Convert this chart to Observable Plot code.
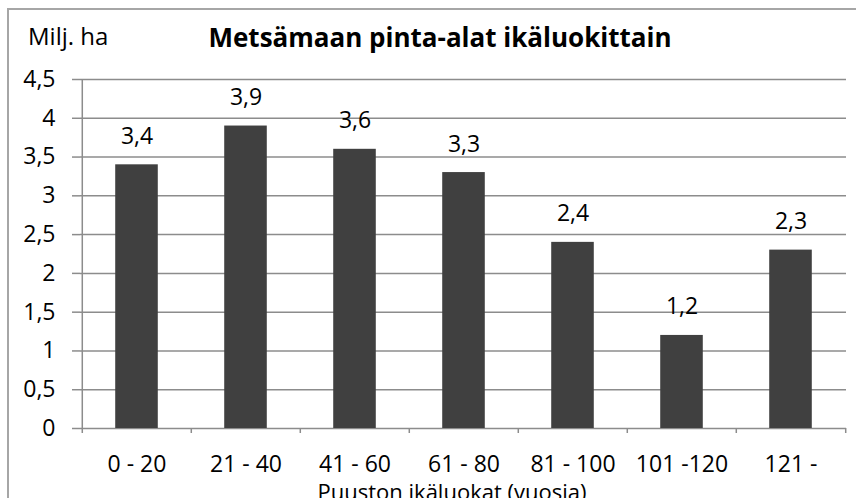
<!DOCTYPE html>
<html><head><meta charset="utf-8">
<script src="https://cdn.jsdelivr.net/npm/d3@7"></script>
<script src="https://cdn.jsdelivr.net/npm/@observablehq/plot@0.6"></script>
<style>
html,body{margin:0;padding:0;background:#fff;overflow:hidden}
#chart{position:relative;width:856px;height:498px;overflow:hidden}
#border{position:absolute;left:7px;top:8px;width:900px;height:600px;border-style:solid;border-color:#a6a6a6;border-width:2px 0 0 2px;box-sizing:border-box;pointer-events:none}
</style></head><body>
<div id="chart"></div>
<script>
const categories = ["0 - 20","21 - 40","41 - 60","61 - 80","81 - 100","101 -120","121 -"];
const values = [3.4, 3.9, 3.6, 3.3, 2.4, 1.2, 2.3];
const valueLabels = ["3,4","3,9","3,6","3,3","2,4","1,2","2,3"];
const yTicks = [0, 0.5, 1, 1.5, 2, 2.5, 3, 3.5, 4, 4.5];
const yTickLabels = ["0","0,5","1","1,5","2","2,5","3","3,5","4","4,5"];
const titleText = "Metsämaan pinta-alat ikäluokittain";
const yUnitText = "Milj. ha";
const xTitleText = "Puuston ikäluokat (vuosia)";

const data = categories.map((c, i) => ({category: c, value: values[i], label: valueLabels[i]}));
const W = 856, H = 498, mL = 80, mR = 10, mT = 79, mB = 70;
const step = (W - mL - mR) / categories.length;
const barW = 43;
const inset = (step - barW) / 2;
const pxPerUnit = (H - mT - mB) / 4.5;
const tickLen = 5 / pxPerUnit;
const gridColor = "#8c8c8c";
const font = "'Open Sans', 'Noto Sans', sans-serif";
const fs = 23;

const plot = Plot.plot({
  width: W, height: H,
  marginLeft: mL, marginRight: mR, marginTop: mT, marginBottom: mB,
  style: {fontFamily: font, fontSize: fs + "px", color: "#000", background: "#fff"},
  x: {type: "band", domain: categories, padding: 0, label: null},
  y: {domain: [0, 4.5], label: null},
  marks: [
    Plot.ruleY(yTicks, {y: d => d, stroke: gridColor, strokeWidth: 1.5}),
    Plot.axisY({ticks: yTicks, tickSize: 8, tickPadding: 17, stroke: gridColor, strokeWidth: 1.5,
      tickFormat: d => yTickLabels[yTicks.indexOf(d)], label: null, fontSize: fs}),
    Plot.axisX({tickSize: 0, tickPadding: 27, label: null, fontSize: fs}),
    Plot.ruleX([categories[0]], {x: d => d, dx: -step / 2, y1: -tickLen, y2: 4.5, stroke: gridColor, strokeWidth: 1.5}),
    Plot.ruleX(categories.slice(1), {x: d => d, dx: -step / 2, y1: -tickLen, y2: 0, stroke: gridColor, strokeWidth: 1.5}),
    Plot.ruleX([categories[categories.length - 1]], {x: d => d, dx: step / 2, y1: -tickLen, y2: 0, stroke: gridColor, strokeWidth: 1.5}),
    Plot.barY(data, {x: "category", y: "value", fill: "#404040", insetLeft: inset, insetRight: inset}),
    Plot.text(data, {x: "category", y: "value", text: "label", dy: -21, lineAnchor: "bottom", fontSize: fs, fill: "#000"})
  ]
});

const svg = d3.select(plot);
svg.append("text").attr("x", 440).attr("y", 47).attr("text-anchor", "middle")
  .attr("font-family", font).attr("font-size", 26).attr("font-weight", "bold").attr("fill", "#000").text(titleText);
svg.append("text").attr("x", 28).attr("y", 45).attr("text-anchor", "start")
  .attr("font-family", font).attr("font-size", fs + 1).attr("fill", "#000").text(yUnitText);
svg.append("text").attr("x", 452).attr("y", 500).attr("text-anchor", "middle")
  .attr("font-family", font).attr("font-size", 22).attr("fill", "#000").text(xTitleText);

const chart = document.getElementById("chart");
chart.appendChild(plot);
const b = document.createElement("div");
b.id = "border";
chart.appendChild(b);
</script>
</body></html>
